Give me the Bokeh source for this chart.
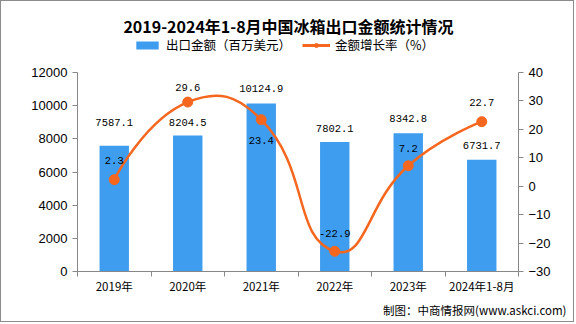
import numpy as np
from bokeh.plotting import figure
from bokeh.models import (Range1d, LinearAxis, FixedTicker, Legend, LegendItem, Label,
                          ColumnDataSource, Title)
from bokeh.core.properties import value
from bokeh.embed import file_html
from bokeh.resources import INLINE

# ---------------- data ----------------
categories = ["2019年", "2020年", "2021年", "2022年", "2023年", "2024年1-8月"]
export_value = [7587.1, 8204.5, 10124.9, 7802.1, 8342.8, 6731.7]   # 百万美元
growth_rate = [2.3, 29.6, 23.4, -22.9, 7.2, 22.7]                  # %
left_ticks = [0, 2000, 4000, 6000, 8000, 10000, 12000]
right_ticks = [-30, -20, -10, 0, 10, 20, 30, 40]

# ---------------- styles ----------------
BAR_COLOR = "#3F9DF0"
LINE_COLOR = "#F5661E"
bar_label_dy = [-23, -13, -15, -14, -15, -14]
rate_label_dy = [-19, -15, 21, -18, -17, -19]
CJK = "Noto Sans CJK SC"

W, H = 574, 322            # + 1px page border on each side = 576 x 324
ML, MR, MB = 76, 57, 52
FRAME_H = H - MB           # frame spans the whole top area (title + legend live inside it)
AXIS_TOP = 71              # pixel row of the top of the value axes
AXIS_PX = FRAME_H - AXIS_TOP

n = len(categories)
xc = np.arange(n) + 0.5

L0, L1 = left_ticks[0], left_ticks[-1]
R0, R1 = right_ticks[0], right_ticks[-1]
left_end = L0 + (L1 - L0) * FRAME_H / AXIS_PX
right_end = R0 + (R1 - R0) * FRAME_H / AXIS_PX

p = figure(width=W, height=H, output_backend="svg", toolbar_location=None,
           x_range=Range1d(0, n), y_range=Range1d(L0, left_end),
           min_border_left=ML, min_border_right=MR, min_border_top=0, min_border_bottom=MB)
p.styles = {"border": "1px solid #8c8c8c"}
p.title.visible = False
p.outline_line_color = None
p.xgrid.visible = False
p.ygrid.visible = False
p.extra_y_ranges = {"rate": Range1d(R0, right_end)}

AXIS_COLOR = "#888888"

# x axis
xa = p.xaxis[0]
xa.ticker = FixedTicker(ticks=list(xc), minor_ticks=list(range(n + 1)))
xa.major_label_overrides = {float(x): c for x, c in zip(xc, categories)}
xa.major_tick_line_color = None
xa.minor_tick_out = 5
xa.minor_tick_in = 0
xa.minor_tick_line_color = AXIS_COLOR
xa.axis_line_color = AXIS_COLOR
xa.major_label_text_font = CJK
xa.major_label_text_font_size = "11.5px"
xa.major_label_text_color = "#000000"
xa.major_label_standoff = 0

# left axis
ya = p.yaxis[0]
ya.ticker = FixedTicker(ticks=left_ticks)
ya.bounds = (L0, L1)
ya.minor_tick_line_color = None
ya.major_tick_in = 0
ya.major_tick_out = 5
ya.major_tick_line_color = AXIS_COLOR
ya.axis_line_color = AXIS_COLOR
ya.major_label_text_font = "Liberation Sans"
ya.major_label_text_font_size = "13px"
ya.major_label_text_color = "#000000"
ya.major_label_standoff = 5

# right axis
ra = LinearAxis(y_range_name="rate", ticker=FixedTicker(ticks=right_ticks), bounds=(R0, R1))
ra.minor_tick_line_color = None
ra.major_tick_in = 0
ra.major_tick_out = 5
ra.major_tick_line_color = AXIS_COLOR
ra.axis_line_color = AXIS_COLOR
ra.major_label_text_font = "Liberation Sans"
ra.major_label_text_font_size = "13px"
ra.major_label_text_color = "#000000"
ra.major_label_standoff = 5
p.add_layout(ra, "right")

# bars
bsrc = ColumnDataSource(dict(x=xc, top=export_value,
                             label=[f"{v:.1f}" for v in export_value], dy=bar_label_dy))
bars = p.vbar(x="x", top="top", width=0.4, source=bsrc, fill_color=BAR_COLOR, line_color=None)
p.text(x="x", y="top", text="label", source=bsrc, y_offset="dy",
       text_align="center", text_baseline="middle",
       text_font=value("Liberation Mono"), text_font_size="10.5px", text_color="#000000")

# smooth curve (bezier segments through the data points)
sx = (W - ML - MR) / n
sy = AXIS_PX / (R1 - R0)
P = np.column_stack([xc * sx, np.array(growth_rate) * sy])
smooth = 0.5
cp_in = P.copy()
cp_out = P.copy()
for i in range(1, n - 1):
    prev, cur, nxt = P[i - 1], P[i], P[i + 1]
    vec = nxt - prev
    d0 = np.hypot(*(cur - prev))
    d1 = np.hypot(*(nxt - cur))
    r = d1 / (d0 + d1)
    cp_in[i] = cur - vec * smooth * (1 - r)
    cp_out[i] = cur + vec * smooth * r
bz = dict(x0=P[:-1, 0] / sx, y0=P[:-1, 1] / sy, x1=P[1:, 0] / sx, y1=P[1:, 1] / sy,
          cx0=cp_out[:-1, 0] / sx, cy0=cp_out[:-1, 1] / sy,
          cx1=cp_in[1:, 0] / sx, cy1=cp_in[1:, 1] / sy)
p.bezier(source=ColumnDataSource(bz), x0="x0", y0="y0", x1="x1", y1="y1",
         cx0="cx0", cy0="cy0", cx1="cx1", cy1="cy1",
         line_color=LINE_COLOR, line_width=2.5, y_range_name="rate")

rsrc = ColumnDataSource(dict(x=xc, y=growth_rate,
                             label=[f"{v:.1f}" for v in growth_rate], dy=rate_label_dy))
pts = p.scatter(x="x", y="y", source=rsrc, size=10, fill_color=LINE_COLOR,
                line_color=LINE_COLOR, y_range_name="rate")
p.text(x="x", y="y", text="label", source=rsrc, y_offset="dy", y_range_name="rate",
       text_align="center", text_baseline="middle",
       text_font=value("Liberation Mono"), text_font_size="10.5px", text_color="#000000")

# legend (inside the tall frame, above the value axes)
proxy = p.line(x=[np.nan], y=[np.nan], line_color=LINE_COLOR, line_width=3, y_range_name="rate")
legend = Legend(items=[LegendItem(label="出口金额（百万美元）", renderers=[bars]),
                       LegendItem(label="金额增长率（%）", renderers=[proxy, pts])],
                orientation="horizontal", location=(132 - ML, FRAME_H - 53), margin=0, padding=0,
                spacing=11, glyph_width=28, glyph_height=10, label_height=12,
                label_standoff=5, label_text_font=CJK, label_text_font_size="12.5px",
                label_text_color="#000000", border_line_color=None,
                background_fill_alpha=0)
p.add_layout(legend, "center")

# title
p.add_layout(Label(x=W / 2 - ML, y=FRAME_H - 24, x_units="screen", y_units="screen",
                   text="2019-2024年1-8月中国冰箱出口金额统计情况", text_align="center",
                   text_baseline="middle", text_font=CJK, text_font_size="16px",
                   text_font_style="bold", text_color="#000000"))

# footer
foot = Title(text="制图：中商情报网(www.askci.com)", align="right", offset=-48, standoff=7,
             text_font=CJK, text_font_size="11.5px", text_font_style="normal",
             text_color="#000000")
p.add_layout(foot, "below")

open("out.html", "w").write(file_html(p, INLINE))
